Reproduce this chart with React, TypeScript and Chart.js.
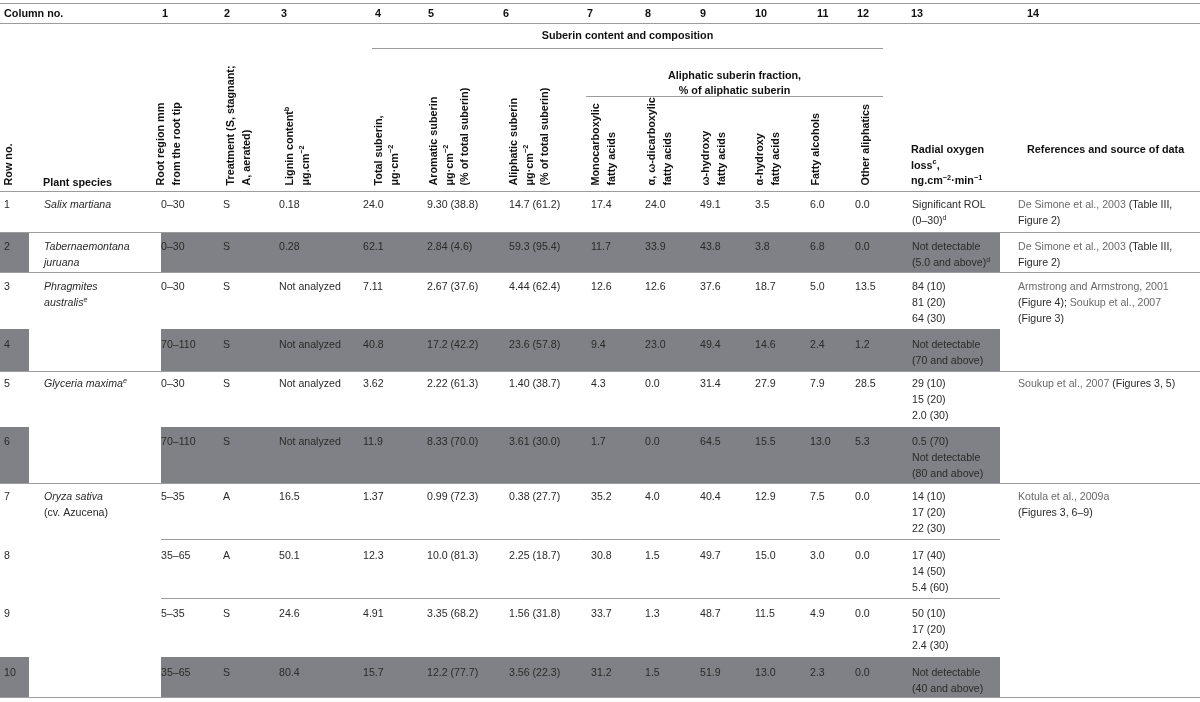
import React, { useEffect, useRef } from "react";
import { Chart, registerables } from "chart.js";
Chart.register(...registerables);

type Seg = { t: string; i?: boolean; b?: boolean; sup?: boolean; c?: string };
type Line = Seg[];

const s = (t: string, o: Partial<Seg> = {}): Seg => ({ t, ...o });
const L = (...segs: (string | Seg)[]): Line => segs.map((x) => (typeof x === "string" ? s(x) : x));

// ---------------- DATA ----------------
const columnNumbers = ["1", "2", "3", "4", "5", "6", "7", "8", "9", "10", "11", "12", "13", "14"];
const rowNumbers = ["1", "2", "3", "4", "5", "6", "7", "8", "9", "10"];
const species: Line[][] = [
  [L(s("Salix martiana", { i: true }))],
  [L(s("Tabernaemontana", { i: true })), L(s("juruana", { i: true }))],
  [L(s("Phragmites", { i: true })), L(s("australis", { i: true }), s("e", { sup: true, i: true }))],
  [],
  [L(s("Glyceria maxima", { i: true }), s("e", { sup: true, i: true }))],
  [],
  [L(s("Oryza sativa", { i: true })), L("(cv. Azucena)")],
  [],
  [],
  [],
];
const rootRegion = ["0–30", "0–30", "0–30", "70–110", "0–30", "70–110", "5–35", "35–65", "5–35", "35–65"];
const treatment = ["S", "S", "S", "S", "S", "S", "A", "A", "S", "S"];
const lignin = ["0.18", "0.28", "Not analyzed", "Not analyzed", "Not analyzed", "Not analyzed", "16.5", "50.1", "24.6", "80.4"];
const totalSuberin = ["24.0", "62.1", "7.11", "40.8", "3.62", "11.9", "1.37", "12.3", "4.91", "15.7"];
const aromaticSuberin = ["9.30 (38.8)", "2.84 (4.6)", "2.67 (37.6)", "17.2 (42.2)", "2.22 (61.3)", "8.33 (70.0)", "0.99 (72.3)", "10.0 (81.3)", "3.35 (68.2)", "12.2 (77.7)"];
const aliphaticSuberin = ["14.7 (61.2)", "59.3 (95.4)", "4.44 (62.4)", "23.6 (57.8)", "1.40 (38.7)", "3.61 (30.0)", "0.38 (27.7)", "2.25 (18.7)", "1.56 (31.8)", "3.56 (22.3)"];
const monocarboxylic = ["17.4", "11.7", "12.6", "9.4", "4.3", "1.7", "35.2", "30.8", "33.7", "31.2"];
const dicarboxylic = ["24.0", "33.9", "12.6", "23.0", "0.0", "0.0", "4.0", "1.5", "1.3", "1.5"];
const omegaHydroxy = ["49.1", "43.8", "37.6", "49.4", "31.4", "64.5", "40.4", "49.7", "48.7", "51.9"];
const alphaHydroxy = ["3.5", "3.8", "18.7", "14.6", "27.9", "15.5", "12.9", "15.0", "11.5", "13.0"];
const fattyAlcohols = ["6.0", "6.8", "5.0", "2.4", "7.9", "13.0", "7.5", "3.0", "4.9", "2.3"];
const otherAliphatics = ["0.0", "0.0", "13.5", "1.2", "28.5", "5.3", "0.0", "0.0", "0.0", "0.0"];
const radialOxygenLoss: Line[][] = [
  [L("Significant ROL"), L("(0–30)", s("d", { sup: true }))],
  [L("Not detectable"), L("(5.0 and above)", s("d", { sup: true }))],
  [L("84 (10)"), L("81 (20)"), L("64 (30)")],
  [L("Not detectable"), L("(70 and above)")],
  [L("29 (10)"), L("15 (20)"), L("2.0 (30)")],
  [L("0.5 (70)"), L("Not detectable"), L("(80 and above)")],
  [L("14 (10)"), L("17 (20)"), L("22 (30)")],
  [L("17 (40)"), L("14 (50)"), L("5.4 (60)")],
  [L("50 (10)"), L("17 (20)"), L("2.4 (30)")],
  [L("Not detectable"), L("(40 and above)")],
];
const REF = "#6a6a6a";
const references: Line[][] = [
  [L(s("De Simone et al., 2003 ", { c: REF }), "(Table III,"), L("Figure 2)")],
  [L(s("De Simone et al., 2003 ", { c: REF }), "(Table III,"), L("Figure 2)")],
  [L(s("Armstrong and Armstrong, 2001", { c: REF })), L("(Figure 4); ", s("Soukup et al., 2007", { c: REF })), L("(Figure 3)")],
  [],
  [L(s("Soukup et al., 2007 ", { c: REF }), "(Figures 3, 5)")],
  [],
  [L(s("Kotula et al., 2009a", { c: REF })), L("(Figures 3, 6–9)")],
  [],
  [],
  [],
];
const shadedRows = [1, 3, 5, 9];

// rotated header labels (bottom-to-top)
const rotatedHeaders: Line[][] = [
  [L("Row no.")],
  [L("Root region mm"), L("from the root tip")],
  [L("Treatment (S, stagnant;"), L("A, aerated)")],
  [L("Lignin content", s("b", { sup: true })), L("μg.cm", s("−2", { sup: true }))],
  [L("Total suberin,"), L("μg·cm", s("−2", { sup: true }))],
  [L("Aromatic suberin"), L("μg·cm", s("−2", { sup: true })), L("(% of total suberin)")],
  [L("Aliphatic suberin"), L("μg·cm", s("−2", { sup: true })), L("(% of total suberin)")],
  [L("Monocarboxylic"), L("fatty acids")],
  [L("α, ω-dicarboxylic"), L("fatty acids")],
  [L("ω-hydroxy"), L("fatty acids")],
  [L("α-hydroxy"), L("fatty acids")],
  [L("Fatty alcohols")],
  [L("Other aliphatics")],
];

// ---------------- LAYOUT ----------------
const W = 1200;
const H = 702;
const FONT = '"Liberation Sans", Arial, Helvetica, sans-serif';
const DATA_SIZE = 10.6;
const HEAD_SIZE = 10.8;
const LINE_H = 15.8;
const dataColX = [4, 44, 161, 223, 279, 363, 427, 509, 591, 645, 700, 755, 810, 855, 912, 1018];
const colNumberX = [162, 224, 281, 375, 428, 503, 587, 645, 700, 755, 817, 857, 911, 1027];
const rotatedBaseX = [12, 164, 234, 293, 382, 437, 517, 599, 655, 709, 763, 819, 869];
const ROT_BOTTOM = 185.5;
const ROT_SPACING = 15.5;
const rowTextY = [204, 246, 286, 344, 383, 441, 496, 555, 613, 672];
const rowBands: [number, number][] = [
  [191, 232], [232, 272], [272, 329], [329, 371], [371, 427],
  [427, 483], [483, 539], [539, 598], [598, 657], [657, 697],
];
const shadeSpans: [number, number][] = [[0, 29], [161, 1000]];
const rules: [number, number, number][] = [
  [3, 0, 1200], [23, 0, 1200], [48, 372, 883], [96, 586, 883], [191, 0, 1200],
  [232, 0, 1200], [272, 0, 1200], [371, 0, 1200], [483, 0, 1200],
  [539, 161, 1000], [598, 161, 1000], [697, 0, 1200],
];

function fontOf(seg: Seg, size: number, bold: boolean) {
  const sz = seg.sup ? size * 0.68 : size;
  return `${seg.i ? "italic " : ""}${bold || seg.b ? "bold " : ""}${sz}px ${FONT}`;
}
function lineWidth(ctx: CanvasRenderingContext2D, line: Line, size: number, bold: boolean) {
  let w = 0;
  for (const seg of line) {
    ctx.font = fontOf(seg, size, bold);
    w += ctx.measureText(seg.t).width;
  }
  return w;
}
function drawLine(ctx: CanvasRenderingContext2D, x: number, y: number, line: Line, size: number, bold: boolean, color: string) {
  let cx = x;
  for (const seg of line) {
    ctx.font = fontOf(seg, size, bold);
    ctx.fillStyle = seg.c || color;
    ctx.fillText(seg.t, cx, seg.sup ? y - size * 0.4 : y);
    cx += ctx.measureText(seg.t).width;
  }
}

const tablePlugin = {
  id: "tablePlugin",
  afterDraw(chart: any) {
    const ctx: CanvasRenderingContext2D = chart.ctx;
    const xs = chart.scales.x;
    const ys = chart.scales.y;
    const X = (v: number) => xs.getPixelForValue(v);
    const Y = (v: number) => ys.getPixelForValue(v);
    ctx.save();
    ctx.textBaseline = "alphabetic";
    ctx.textAlign = "left";

    // shaded cells
    ctx.fillStyle = "#808186";
    for (const r of shadedRows) {
      const [y0, y1] = rowBands[r];
      for (const [x0, x1] of shadeSpans) {
        ctx.fillRect(X(x0), Y(y0), X(x1) - X(x0), Y(y1) - Y(y0));
      }
    }

    // rules
    ctx.strokeStyle = "#9c9c9c";
    ctx.lineWidth = 1;
    for (const [y, x0, x1] of rules) {
      ctx.beginPath();
      ctx.moveTo(X(x0), Math.round(Y(y)) + 0.5);
      ctx.lineTo(X(x1), Math.round(Y(y)) + 0.5);
      ctx.stroke();
    }

    const HC = "#111111";
    // column numbers row
    drawLine(ctx, X(4), Y(16.5), L("Column no."), HEAD_SIZE, true, HC);
    columnNumbers.forEach((n, i) => drawLine(ctx, X(colNumberX[i]), Y(16.5), L(n), HEAD_SIZE, true, HC));

    // spanning headers
    const centered = (line: Line, cx: number, y: number) => {
      const w = lineWidth(ctx, line, HEAD_SIZE, true);
      drawLine(ctx, X(cx) - w / 2, Y(y), line, HEAD_SIZE, true, HC);
    };
    centered(L("Suberin content and composition"), 627.5, 39);
    centered(L("Aliphatic suberin fraction,"), 734.5, 78.5);
    centered(L("% of aliphatic suberin"), 734.5, 93.5);

    // horizontal header labels
    drawLine(ctx, X(43), Y(186), L("Plant species"), HEAD_SIZE, true, HC);
    drawLine(ctx, X(911), Y(153), L("Radial oxygen"), HEAD_SIZE, true, HC);
    drawLine(ctx, X(911), Y(168.5), L("loss", s("c", { sup: true }), ","), HEAD_SIZE, true, HC);
    drawLine(ctx, X(911), Y(184), L("ng.cm", s("−2", { sup: true }), "·min", s("−1", { sup: true })), HEAD_SIZE, true, HC);
    drawLine(ctx, X(1027), Y(153), L("References and source of data"), HEAD_SIZE, true, HC);

    // rotated headers
    rotatedHeaders.forEach((lines, i) => {
      ctx.save();
      ctx.translate(X(rotatedBaseX[i]), Y(ROT_BOTTOM));
      ctx.rotate(-Math.PI / 2);
      lines.forEach((ln, k) => drawLine(ctx, 0, k * ROT_SPACING, ln, HEAD_SIZE, true, HC));
      ctx.restore();
    });

    // body
    const DC = "#2a2a2a";
    const simpleCols = [rootRegion, treatment, lignin, totalSuberin, aromaticSuberin, aliphaticSuberin,
      monocarboxylic, dicarboxylic, omegaHydroxy, alphaHydroxy, fattyAlcohols, otherAliphatics];
    for (let r = 0; r < rowNumbers.length; r++) {
      const base = rowTextY[r] + 4;
      drawLine(ctx, X(dataColX[0]), Y(base), L(rowNumbers[r]), DATA_SIZE, false, DC);
      species[r].forEach((ln, k) => drawLine(ctx, X(dataColX[1]), Y(base + k * LINE_H), ln, DATA_SIZE, false, DC));
      simpleCols.forEach((col, c) => drawLine(ctx, X(dataColX[c + 2]), Y(base), L(col[r]), DATA_SIZE, false, DC));
      radialOxygenLoss[r].forEach((ln, k) => drawLine(ctx, X(dataColX[14]), Y(base + k * LINE_H), ln, DATA_SIZE, false, DC));
      references[r].forEach((ln, k) => drawLine(ctx, X(dataColX[15]), Y(base + k * LINE_H), ln, DATA_SIZE, false, DC));
    }
    ctx.restore();
  },
};

export default function App() {
  const ref = useRef<HTMLCanvasElement | null>(null);
  useEffect(() => {
    document.body.style.margin = "0";
    document.body.style.background = "#ffffff";
    const canvas = ref.current!;
    const chart = new Chart(canvas, {
      type: "scatter",
      data: { datasets: [{ data: [] }] },
      options: {
        animation: false,
        responsive: false,
        devicePixelRatio: 1,
        events: [],
        layout: { padding: 0 },
        plugins: { legend: { display: false }, tooltip: { enabled: false } },
        scales: {
          x: { type: "linear", min: 0, max: W, display: false },
          y: { type: "linear", min: 0, max: H, reverse: true, display: false },
        },
      },
      plugins: [tablePlugin],
    } as any);
    return () => chart.destroy();
  }, []);
  return (
    <div style={{ width: W, height: H, background: "#fff" }}>
      <canvas ref={ref} width={W} height={H} style={{ display: "block", width: W, height: H }} />
    </div>
  );
}
